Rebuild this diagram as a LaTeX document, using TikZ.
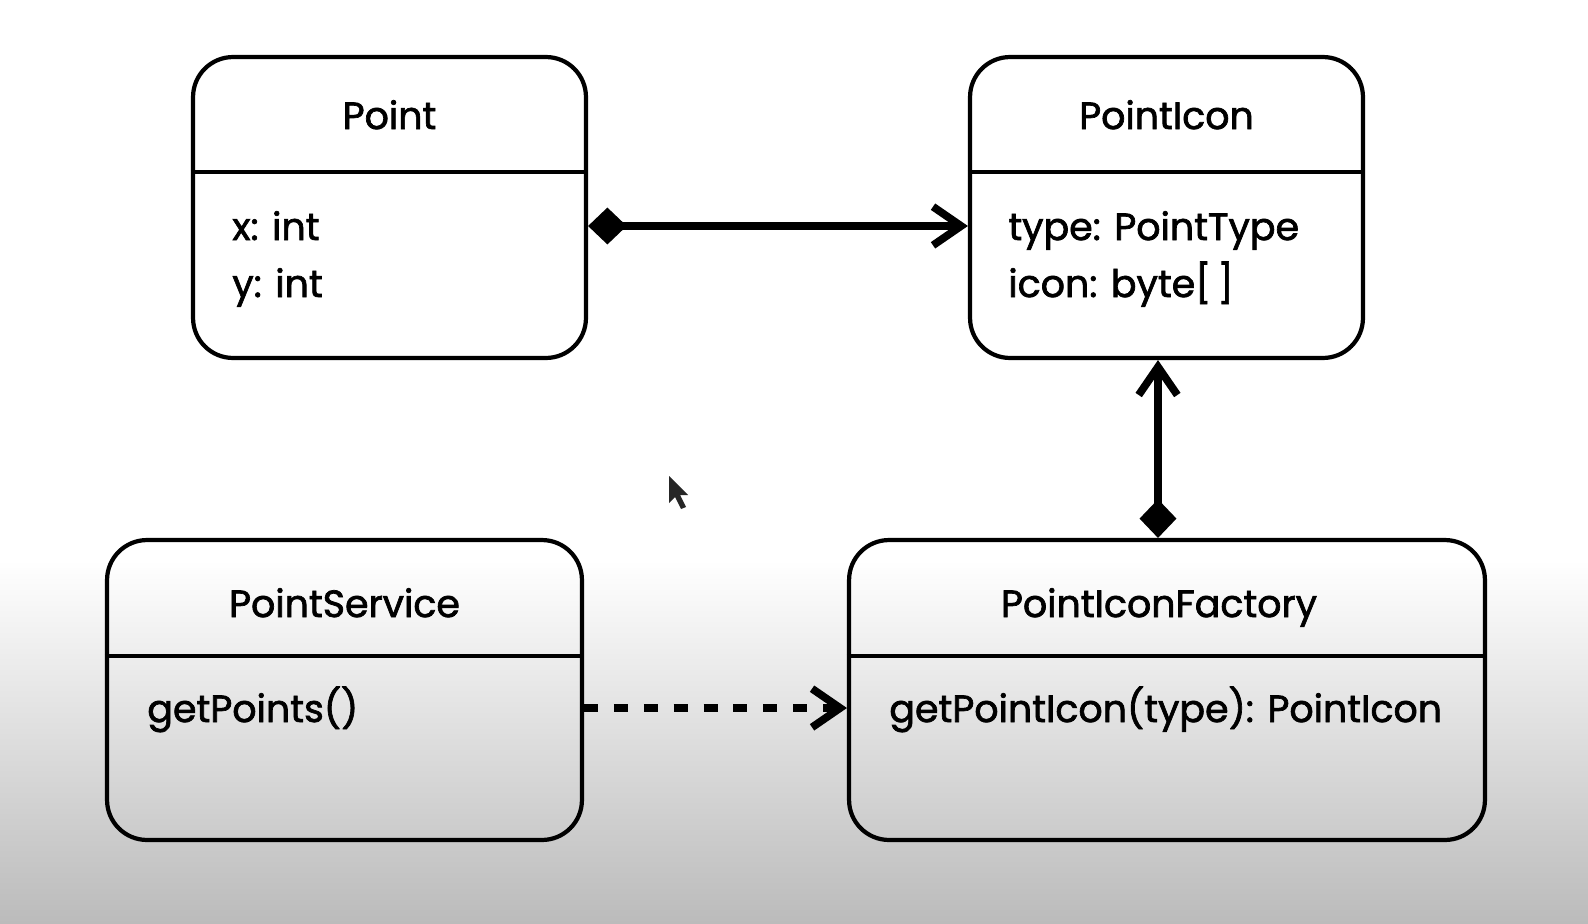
\documentclass[tikz,border=0pt]{standalone}
\usepackage{fontspec}
\setmainfont{Poppins}[FakeBold=1.8]
\usetikzlibrary{arrows.meta}
\definecolor{bggray}{RGB}{187,187,187}

\begin{document}
\begin{tikzpicture}[x=0.02cm,y=-0.02cm,
    umlbox/.style={draw,line width=2.4pt,rounded corners=0.8cm,inner sep=0pt},
    divider/.style={line width=2.4pt},
    label/.style={font=\fontsize{21.6}{26}\selectfont,inner sep=0pt},
    assoc/.style={line width=4.4pt},
    comp/.tip={Diamond[length=22pt,width=21pt]},
    open/.tip={Straight Barb[length=16pt,width=22pt,line cap=butt]}]
  % background
  \useasboundingbox (0,0) rectangle (1588,923);
  \fill[white] (0,0) rectangle (1588,923);
  \shade[top color=white,bottom color=bggray] (0,560) rectangle (1588,923);

  % classes
  \node[umlbox,minimum width=7.86cm,minimum height=6.02cm] (point) at (389.5,207.5) {};
  \node[umlbox,minimum width=7.86cm,minimum height=6.02cm] (icon) at (1166.5,207.5) {};
  \node[umlbox,minimum width=9.5cm,minimum height=6cm] (service) at (344.5,690) {};
  \node[umlbox,minimum width=12.72cm,minimum height=6cm] (factory) at (1167,690) {};

  \draw[divider] (point.west |- 0,172) -- (point.east |- 0,172);
  \draw[divider] (icon.west |- 0,172) -- (icon.east |- 0,172);
  \draw[divider] (service.west |- 0,656) -- (service.east |- 0,656);
  \draw[divider] (factory.west |- 0,656) -- (factory.east |- 0,656);

  \node[label,anchor=base] (pointname) at (389.5,129) {Point};
  \node[label,anchor=base west] (pointx) at (232,240) {x: int};
  \node[label,anchor=base west] (pointy) at (232,297) {y: int};

  \node[label,anchor=base] (iconname) at (1166.5,129) {PointIcon};
  \node[label,anchor=base west] (icontype) at (1008,240) {type: PointType};
  \node[label,anchor=base west] (iconicon) at (1008,297) {icon: byte[\,]};

  \node[label,anchor=base] (servicename) at (344.5,617) {PointService};
  \node[label,anchor=base west] (serviceget) at (147,722) {getPoints()};

  \node[label,anchor=base] (factoryname) at (1159,617) {PointIconFactory};
  \node[label,anchor=base west] (factoryget) at (889,722) {getPointIcon(type): PointIcon};

  % relations
  \draw[assoc,comp-open] (point.east |- 0,226) -- (icon.west |- 0,226);
  \draw[assoc,comp-open] (factory.north -| 1158,0) -- (icon.south -| 1158,0);
  \draw[assoc,dash pattern=on 8pt off 9pt,-open] (service.east |- 0,708) -- (factory.west |- 0,708);

  % cursor
  \fill[black!85] (669,476) -- (669,503) -- (675,497) -- (681,509) -- (686,507) -- (680,495) -- (688,495) -- cycle;
\end{tikzpicture}
\end{document}
